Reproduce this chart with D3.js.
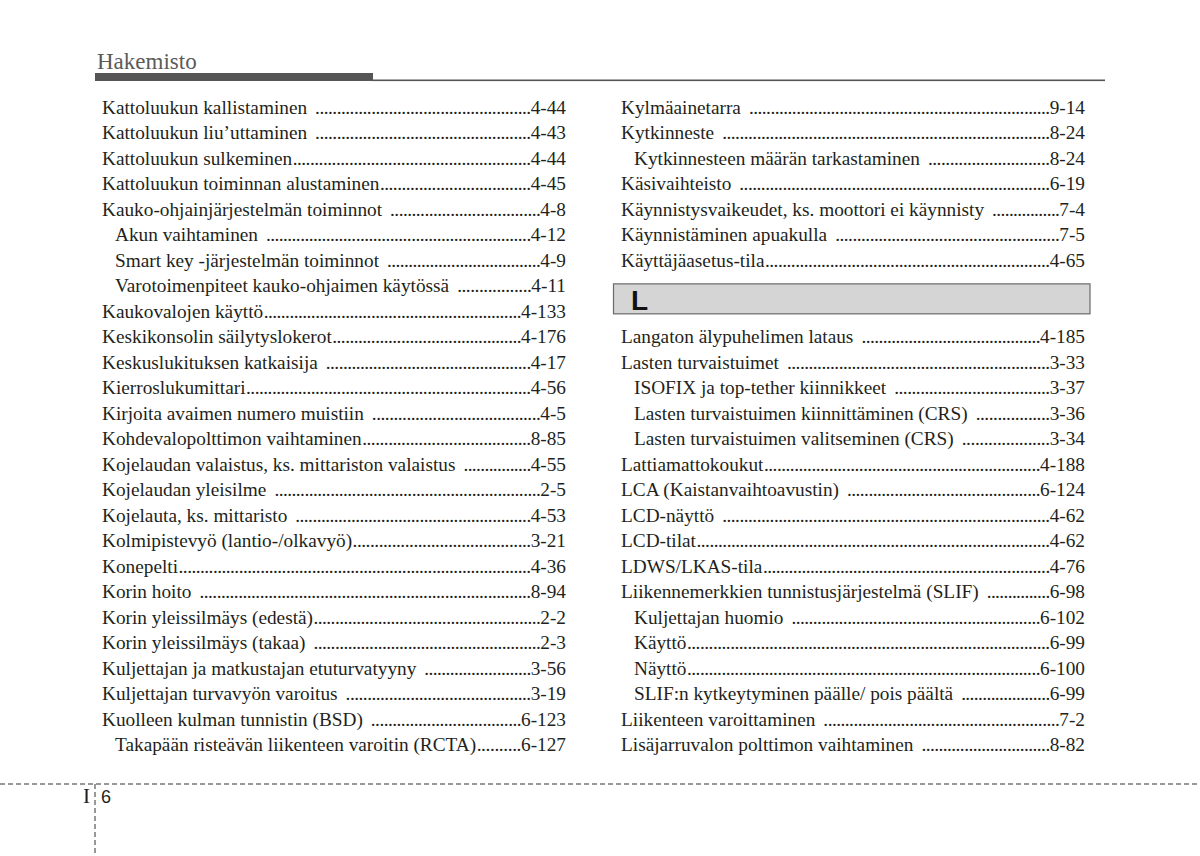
<!DOCTYPE html>
<html><head><meta charset="utf-8">
<script src="https://cdn.jsdelivr.net/npm/d3@7"></script>
<style>html,body{margin:0;padding:0;background:#fff;}svg{display:block;}</style>
</head><body>
<svg id="c" width="1200" height="856"></svg>
<script>
// ---- data ----
const leftLabels = [
 "Kattoluukun kallistaminen","Kattoluukun liu’uttaminen","Kattoluukun sulkeminen","Kattoluukun toiminnan alustaminen",
 "Kauko-ohjainjärjestelmän toiminnot","Akun vaihtaminen","Smart key -järjestelmän toiminnot","Varotoimenpiteet kauko-ohjaimen käytössä",
 "Kaukovalojen käyttö","Keskikonsolin säilytyslokerot","Keskuslukituksen katkaisija","Kierroslukumittari",
 "Kirjoita avaimen numero muistiin","Kohdevalopolttimon vaihtaminen","Kojelaudan valaistus, ks. mittariston valaistus","Kojelaudan yleisilme",
 "Kojelauta, ks. mittaristo","Kolmipistevyö (lantio-/olkavyö)","Konepelti","Korin hoito",
 "Korin yleissilmäys (edestä)","Korin yleissilmäys (takaa)","Kuljettajan ja matkustajan etuturvatyyny","Kuljettajan turvavyön varoitus",
 "Kuolleen kulman tunnistin (BSD)","Takapään risteävän liikenteen varoitin (RCTA)"];
const leftPages = ["4-44","4-43","4-44","4-45","4-8","4-12","4-9","4-11","4-133","4-176","4-17","4-56","4-5","8-85","4-55","2-5","4-53","3-21","4-36","8-94","2-2","2-3","3-56","3-19","6-123","6-127"];
const leftLevels = [0,0,0,0,0,1,1,1,0,0,0,0,0,0,0,0,0,0,0,0,0,0,0,0,0,1];
const leftGaps   = [1,1,0,0,1,1,1,1,0,0,1,0,1,0,1,1,1,0,0,1,0,1,1,1,1,0];

const rightLabels = [
 "Kylmäainetarra","Kytkinneste","Kytkinnesteen määrän tarkastaminen","Käsivaihteisto",
 "Käynnistysvaikeudet, ks. moottori ei käynnisty","Käynnistäminen apuakulla","Käyttäjäasetus-tila",
 "Langaton älypuhelimen lataus","Lasten turvaistuimet","ISOFIX ja top-tether kiinnikkeet","Lasten turvaistuimen kiinnittäminen (CRS)",
 "Lasten turvaistuimen valitseminen (CRS)","Lattiamattokoukut","LCA (Kaistanvaihtoavustin)","LCD-näyttö","LCD-tilat","LDWS/LKAS-tila",
 "Liikennemerkkien tunnistusjärjestelmä (SLIF)","Kuljettajan huomio","Käyttö","Näyttö","SLIF:n kytkeytyminen päälle/ pois päältä",
 "Liikenteen varoittaminen","Lisäjarruvalon polttimon vaihtaminen"];
const rightPages = ["9-14","8-24","8-24","6-19","7-4","7-5","4-65","4-185","3-33","3-37","3-36","3-34","4-188","6-124","4-62","4-62","4-76","6-98","6-102","6-99","6-100","6-99","7-2","8-82"];
const rightLevels = [0,0,1,0,0,0,0,0,0,1,1,1,0,0,0,0,0,0,1,1,1,1,0,0];
const rightGaps   = [1,1,1,1,1,1,0,1,1,1,1,1,0,1,1,0,0,1,1,0,0,1,1,1];
const rightRows   = [0,1,2,3,4,5,6,9,10,11,12,13,14,15,16,17,18,19,20,21,22,23,24,25];

const sectionLetter = "L";
const sectionRows = [7,8];
const headerTitle = "Hakemisto";
const footerSection = "I";
const footerPage = "6";

// ---- drawing ----
const svg = d3.select("#c");
const ink = "#231f20";
const serif = "'Liberation Serif','Times New Roman',serif";
const sans = "'Liberation Sans',Arial,sans-serif";

const rowY = d3.scaleLinear().domain([0,25]).range([107,744]);
const fs = 19.3;
const dotStep = 4.3;

// header
svg.append("text").attr("x",97).attr("y",69).attr("font-family",serif).attr("font-size",23)
  .attr("fill","#5a5a5a").text(headerTitle);
svg.append("rect").attr("x",95).attr("y",73).attr("width",278).attr("height",8).attr("fill","#555");
svg.append("rect").attr("x",372).attr("y",79.5).attr("width",733).attr("height",1.6).attr("fill","#555");

// section box
svg.append("rect").attr("x",613.5).attr("y",rowY(sectionRows[0])-1.5).attr("width",476.5)
  .attr("height",rowY(sectionRows[1])-rowY(sectionRows[0])+4.5)
  .attr("fill","#d5d5d5").attr("stroke","#6a6a6a").attr("stroke-width",1.2);
svg.append("text").attr("x",631).attr("y",310).attr("font-family",sans).attr("font-weight","bold")
  .attr("font-size",28).attr("fill","#111").text(sectionLetter);

function column(labels,pages,levels,gaps,rows,x0,x1){
  const g = svg.append("g");
  const probe = g.append("text").attr("font-family",serif).attr("font-size",fs).text("..........");
  const dw = probe.node().getComputedTextLength()/10; probe.remove();
  labels.forEach((lab,i)=>{
    const y = rowY(rows ? rows[i] : i) + 7;
    const x = x0 + levels[i]*13;
    const t = g.append("text").attr("x",x).attr("y",y).attr("font-family",serif).attr("font-size",fs).attr("fill",ink).text(lab);
    const p = g.append("text").attr("x",x1).attr("y",y).attr("text-anchor","end").attr("font-family",serif).attr("font-size",fs).attr("fill",ink).text(pages[i]);
    const lw = t.node().getComputedTextLength();
    const pw = p.node().getComputedTextLength();
    const dotsStart = x + lw + (gaps[i] ? 8 : 0.5);
    const dotsEnd = x1 - pw;
    const n = Math.max(1, Math.round((dotsEnd - dotsStart)/dotStep));
    const step = (dotsEnd - dotsStart)/n;
    g.append("text").attr("x",dotsStart).attr("y",y).attr("font-family",serif)
      .attr("font-size",fs).attr("letter-spacing",step - dw).attr("fill",ink).text(".".repeat(n));
  });
}
column(leftLabels,leftPages,leftLevels,leftGaps,null,102,566);
column(rightLabels,rightPages,rightLevels,rightGaps,rightRows,621,1085);

// footer
svg.append("line").attr("x1",0).attr("x2",1200).attr("y1",784).attr("y2",784)
  .attr("stroke","#777").attr("stroke-width",1.5).attr("stroke-dasharray","5,3");
svg.append("line").attr("x1",95).attr("x2",95).attr("y1",784).attr("y2",856)
  .attr("stroke","#777").attr("stroke-width",1.5).attr("stroke-dasharray","5,3");
svg.append("text").attr("x",83).attr("y",803).attr("font-family",serif).attr("font-size",21).attr("fill",ink).text(footerSection);
svg.append("text").attr("x",101).attr("y",803).attr("font-family",sans).attr("font-size",18).attr("fill",ink).text(footerPage);
</script>
</body></html>
